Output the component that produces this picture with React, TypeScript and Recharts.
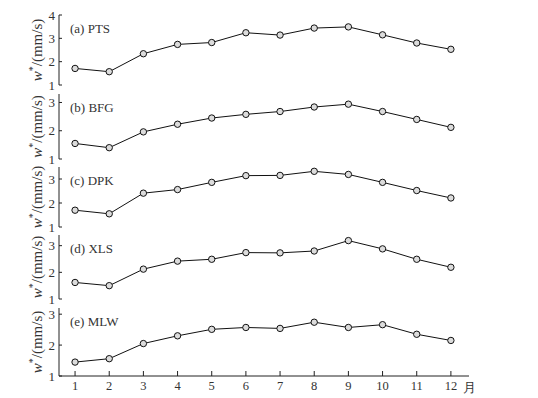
import { LineChart, Line, XAxis, YAxis } from 'recharts';

const months = [1, 2, 3, 4, 5, 6, 7, 8, 9, 10, 11, 12];
const stations = ['(a) PTS', '(b) BFG', '(c) DPK', '(d) XLS', '(e) MLW'];
const pts = [1.71, 1.57, 2.34, 2.74, 2.82, 3.24, 3.14, 3.44, 3.49, 3.15, 2.8, 2.53];
const bfg = [1.55, 1.4, 1.96, 2.23, 2.45, 2.58, 2.68, 2.84, 2.94, 2.68, 2.4, 2.12];
const dpk = [1.7, 1.55, 2.41, 2.56, 2.86, 3.14, 3.15, 3.32, 3.19, 2.86, 2.52, 2.21];
const xls = [1.62, 1.5, 2.12, 2.42, 2.49, 2.74, 2.73, 2.8, 3.19, 2.88, 2.49, 2.19];
const mlw = [1.45, 1.56, 2.05, 2.3, 2.51, 2.57, 2.54, 2.74, 2.57, 2.66, 2.35, 2.15];
const yMax = [4, 3.3, 3.5, 3.4, 3.2];
const yTicks = [[1, 2, 3, 4], [1, 2, 3], [1, 2, 3], [1, 2, 3], [1, 2, 3]];

const series = [pts, bfg, dpk, xls, mlw];

// plot box tops and heights, in page pixels
const boxTop = [15, 94, 167, 235, 308];
const boxH = [70, 65, 60, 64, 68];

const font = '"Liberation Serif", serif';
const axisColor = '#222';
const textColor = '#333';

const YLabel = (props: any) => {
  const vb = props.viewBox || {};
  const cx = 37;
  const cy = vb.y + vb.height / 2;
  return (
    <text
      x={cx}
      y={cy}
      transform={`rotate(-90 ${cx} ${cy})`}
      textAnchor="middle"
      dominantBaseline="central"
      fontFamily={font}
      fontSize={15}
      fill={textColor}
    >
      <tspan fontStyle="italic">w</tspan>
      <tspan dy={-5} fontSize={10}>*</tspan>
      <tspan dy={5}>/(mm/s)</tspan>
    </text>
  );
};

const Panel = ({ idx }: { idx: number }) => {
  const last = idx === series.length - 1;
  const data = months.map((m, i) => ({ month: m, w: series[idx][i] }));
  const bottomH = last ? 22 : 0;
  const pad = 9;
  return (
    <div style={{ position: 'absolute', left: 0, top: boxTop[idx] - pad }}>
      <LineChart
        width={538}
        height={boxH[idx] + pad * 2 + bottomH}
        data={data}
        margin={{ top: pad, right: 69, bottom: pad, left: 0 }}
      >
        <XAxis
          dataKey="month"
          type="number"
          domain={[0.53, 12.53]}
          ticks={months}
          interval={0}
          allowDataOverflow
          stroke={axisColor}
          tickSize={-5}
          tickMargin={10}
          height={bottomH}
          tick={last ? { fill: textColor, fontSize: 12.5, fontFamily: font } : false}
          label={last ? { value: '月', position: 'right', offset: -6, fill: textColor, fontSize: 13, fontFamily: font } : undefined}
        />
        <XAxis xAxisId="top" orientation="top" dataKey="month" type="number" domain={[0.53, 12.53]} height={0} tick={false} tickLine={false} stroke={axisColor} />
        <YAxis
          domain={[1, yMax[idx]]}
          ticks={yTicks[idx]}
          interval={0}
          allowDataOverflow
          width={59}
          stroke={axisColor}
          tickSize={-3}
          tickMargin={7}
          tick={{ fill: textColor, fontSize: 13, fontFamily: font }}
          label={<YLabel />}
        />
        <YAxis yAxisId="right" orientation="right" width={0} tick={false} tickLine={false} stroke={axisColor} />
        <Line
          dataKey="w"
          stroke="#111"
          strokeWidth={1}
          dot={{ r: 3.2, stroke: '#111', strokeWidth: 1, fill: '#dcdcdc' }}
          isAnimationActive={false}
        />
      </LineChart>
      <div
        style={{
          position: 'absolute',
          left: 70,
          top: pad + 6,
          fontFamily: font,
          fontSize: 13,
          color: textColor,
          lineHeight: '15px',
        }}
      >
        {stations[idx]}
      </div>
    </div>
  );
};

export default function App() {
  return (
    <div style={{ position: 'absolute', left: 0, top: 0, width: 538, height: 398, background: '#fff' }}>
      {series.map((_, i) => (
        <Panel key={i} idx={i} />
      ))}
    </div>
  );
}
